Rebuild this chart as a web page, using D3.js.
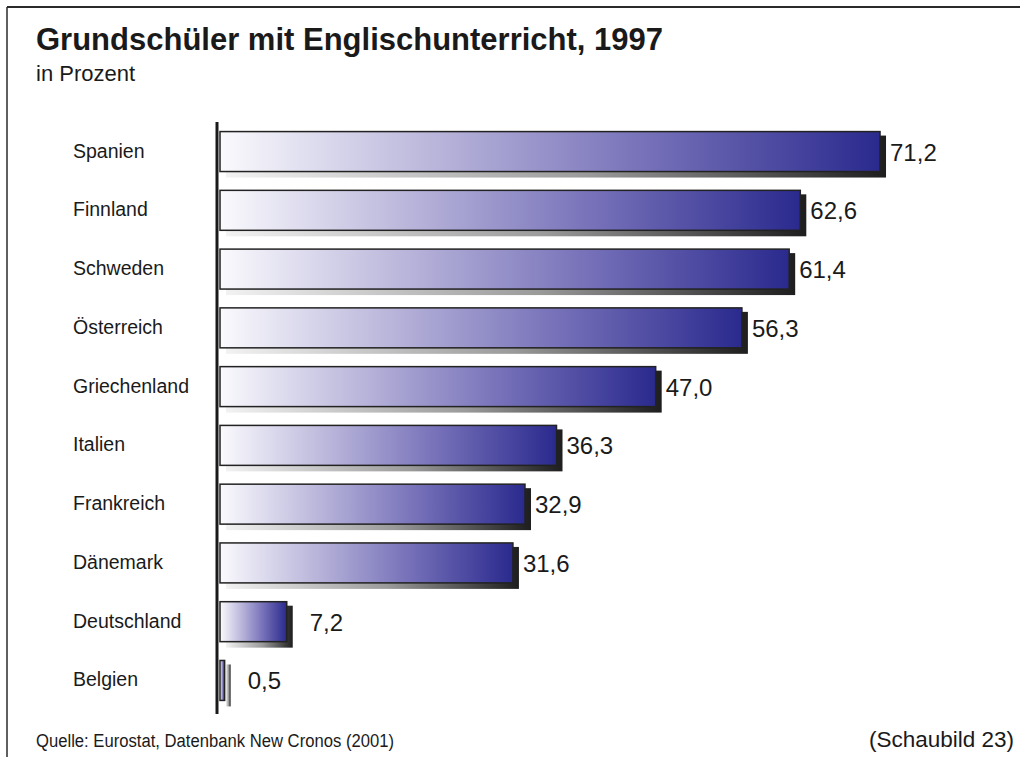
<!DOCTYPE html>
<html>
<head>
<meta charset="utf-8">
<script src="https://cdn.jsdelivr.net/npm/d3@7"></script>
<style>
  html, body { margin: 0; padding: 0; background: #fff; }
  svg { display: block; font-family: "Liberation Sans", Arial, sans-serif; }
</style>
</head>
<body>
<svg id="chart" width="1020" height="757"></svg>
<script>
// Anteil der Grundschüler mit Englischunterricht, 1997 (in Prozent)
const countries = ["Spanien", "Finnland", "Schweden", "Österreich", "Griechenland",
                   "Italien", "Frankreich", "Dänemark", "Deutschland", "Belgien"];
const shares = [71.2, 62.6, 61.4, 56.3, 47.0, 36.3, 32.9, 31.6, 7.2, 0.5];
const valueLabels = ["71,2", "62,6", "61,4", "56,3", "47,0", "36,3", "32,9", "31,6", "7,2", "0,5"];

const title = "Grundschüler mit Englischunterricht, 1997";
const subtitle = "in Prozent";
const source = "Quelle: Eurostat, Datenbank New Cronos (2001)";
const figureNo = "(Schaubild 23)";

const rows = countries.map((c, i) => ({ country: c, value: shares[i], label: valueLabels[i] }));

const svg = d3.select("#chart");
const W = 1020, H = 757;

const x = d3.scaleLinear().domain([0, 80]).range([220, 220 + 80 * 9.27]);
const y = d3.scaleBand().domain(countries).range([121, 711]).paddingInner(0.32).paddingOuter(0.18);

// Gradients: bar fill (white -> dark blue) and shadow (light -> dark grey)
const defs = svg.append("defs");
const barGrad = defs.append("linearGradient").attr("id", "barGrad")
  .attr("x1", "0%").attr("x2", "100%").attr("y1", "0%").attr("y2", "0%");
[["0%", "#fafafd"], ["35%", "#b4b0d8"], ["65%", "#7570b8"], ["100%", "#2a2a8e"]]
  .forEach(([o, c]) => barGrad.append("stop").attr("offset", o).attr("stop-color", c));
const shadowGrad = defs.append("linearGradient").attr("id", "shadowGrad")
  .attr("x1", "0%").attr("x2", "100%").attr("y1", "0%").attr("y2", "0%");
[["0%", "#f2f2f2"], ["55%", "#9a9a9a"], ["100%", "#1e1e1e"]]
  .forEach(([o, c]) => shadowGrad.append("stop").attr("offset", o).attr("stop-color", c));

// Frame
svg.append("line").attr("x1", 7).attr("x2", W).attr("y1", 7).attr("y2", 7)
  .attr("stroke", "#2a2a2a").attr("stroke-width", 2);
svg.append("line").attr("x1", 7).attr("x2", 7).attr("y1", 7).attr("y2", H)
  .attr("stroke", "#2a2a2a").attr("stroke-width", 1.5);

// Titles
svg.append("text").attr("x", 36).attr("y", 50)
  .attr("font-size", 31).attr("font-weight", "bold").attr("fill", "#1a1a1a")
  .text(title);
svg.append("text").attr("x", 36).attr("y", 81)
  .attr("font-size", 22).attr("fill", "#1a1a1a").text(subtitle);

const bars = svg.append("g");
const g = bars.selectAll("g.row").data(rows).join("g").attr("class", "row");

// Shadow
g.append("rect")
  .attr("x", x(0) + 6)
  .attr("y", d => y(d.country) + 4)
  .attr("width", d => x(d.value) - x(0))
  .attr("height", y.bandwidth() + 2)
  .attr("fill", "url(#shadowGrad)");

// Bar
g.append("rect")
  .attr("x", x(0))
  .attr("y", d => y(d.country))
  .attr("width", d => x(d.value) - x(0))
  .attr("height", y.bandwidth())
  .attr("fill", "url(#barGrad)")
  .attr("stroke", "#222")
  .attr("stroke-width", 1.5);

// Value labels
g.append("text")
  .attr("x", d => x(d.value) + (d.value < 10 ? 23 : 10))
  .attr("y", d => y(d.country) + y.bandwidth() / 2 + 9)
  .attr("font-size", 24).attr("fill", "#1a1a1a")
  .text(d => d.label);

// Category labels
g.append("text")
  .attr("x", 73)
  .attr("y", d => y(d.country) + y.bandwidth() / 2 + 6)
  .attr("font-size", 19.5).attr("fill", "#1a1a1a")
  .text(d => d.country);

// Vertical axis line
svg.append("line").attr("x1", 217).attr("x2", 217).attr("y1", 122).attr("y2", 714)
  .attr("stroke", "#1a1a1a").attr("stroke-width", 3);

// Footer (condensed source line)
svg.append("text")
  .attr("transform", "translate(36,747) scale(0.876,1)")
  .attr("font-size", 19).attr("fill", "#1a1a1a").text(source);
svg.append("text").attr("x", 1014).attr("y", 747).attr("text-anchor", "end")
  .attr("font-size", 22.5).attr("fill", "#1a1a1a").text(figureNo);
</script>
</body>
</html>
